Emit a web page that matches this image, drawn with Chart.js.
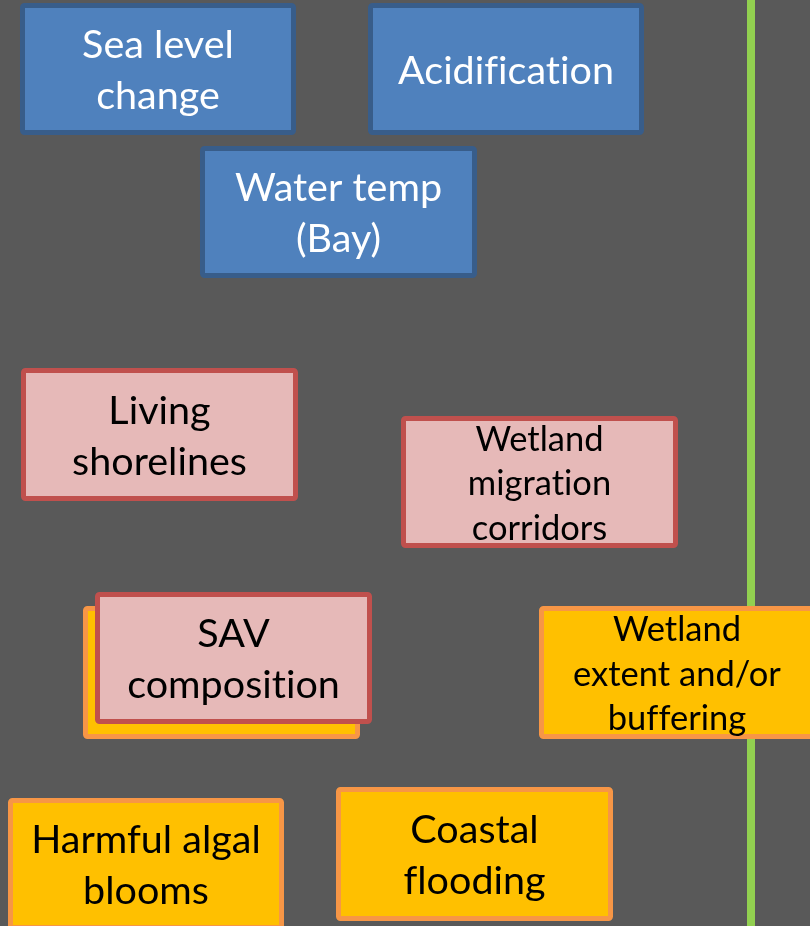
<!DOCTYPE html>
<html>
<head>
<meta charset="utf-8">
<script src="https://cdn.jsdelivr.net/npm/chart.js@4/dist/chart.umd.min.js"></script>
<style>
  html, body { margin: 0; padding: 0; background: #595959; overflow: hidden; }
  canvas { display: block; }
</style>
</head>
<body>
<canvas id="diagram" width="810" height="926"></canvas>
<script>
'use strict';

/* ── data: boxes in diagram units (x: 0–810, y: 0–926 from the top) ── */
const boxLabels = [
    ['Sea level', 'change'],
    ['Acidification'],
    ['Water temp', '(Bay)'],
    ['Living', 'shorelines'],
    ['Wetland', 'migration', 'corridors'],
    [''],
    ['SAV', 'composition'],
    ['Wetland', 'extent and/or', 'buffering'],
    ['Harmful algal', 'blooms'],
    ['Coastal', 'flooding']
];
const boxGroup  = ['driver', 'driver', 'driver', 'action', 'action', 'outcome', 'action', 'outcome', 'outcome', 'outcome'];
const boxLeft   = [20, 368, 200, 21, 401, 83, 95, 539, 8, 336];
const boxRight  = [296, 644, 477, 298, 678, 360, 372, 815, 284, 613];
const boxTop    = [3, 3, 146, 368, 416, 606, 592, 606, 798, 787];
const boxBottom = [135, 135, 278, 501, 548, 739, 724, 739, 930, 921];

// vertical divider
const dividerX = [751, 751];
const dividerY = [0, 926];

const GROUP_STYLE = {
    driver:  { fill: '#4F81BD', stroke: '#385D8A', text: '#FFFFFF' },
    action:  { fill: '#E6B9B8', stroke: '#C0504D', text: '#000000' },
    outcome: { fill: '#FFC000', stroke: '#F79646', text: '#000000' }
};

const boxesPlugin = {
    id: 'boxes',
    afterDatasetsDraw(chart) {
        const { ctx, scales: { x, y } } = chart;
        ctx.save();
        boxLabels.forEach((lines, i) => {
            const st = GROUP_STYLE[boxGroup[i]];
            const l = x.getPixelForValue(boxLeft[i]);
            const r = x.getPixelForValue(boxRight[i]);
            const t = y.getPixelForValue(boxTop[i]);
            const b = y.getPixelForValue(boxBottom[i]);
            const bw = 5;

            ctx.beginPath();
            ctx.roundRect(l + bw / 2, t + bw / 2, r - l - bw, b - t - bw, 2);
            ctx.fillStyle = st.fill;
            ctx.fill();
            ctx.lineWidth = bw;
            ctx.strokeStyle = st.stroke;
            ctx.stroke();

            // three-line labels are set a bit smaller
            const size   = lines.length > 2 ? 34.5 : 39.5;
            const lineH  = lines.length > 2 ? 44.5 : 51;
            const cx = (l + r) / 2;
            const cy = (t + b) / 2 + 2;
            ctx.font = `${size}px Lato, "Open Sans", sans-serif`;
            ctx.letterSpacing = '0.01px';   // keeps "fi" from merging into a ligature
            ctx.fillStyle = st.text;
            ctx.textAlign = 'center';
            ctx.textBaseline = 'middle';
            lines.forEach((txt, k) => {
                ctx.fillText(txt, cx, cy + (k - (lines.length - 1) / 2) * lineH);
            });
        });
        ctx.restore();
    }
};

new Chart(document.getElementById('diagram'), {
    type: 'scatter',
    data: {
        datasets: [{
            data: dividerX.map((v, i) => ({ x: v, y: dividerY[i] })),
            showLine: true,
            borderColor: '#92D050',
            borderWidth: 8,
            pointRadius: 0
        }]
    },
    options: {
        responsive: false,
        devicePixelRatio: 1,
        animation: false,
        layout: { padding: 0 },
        plugins: { legend: { display: false }, tooltip: { enabled: false } },
        scales: {
            x: { type: 'linear', min: 0, max: 810, display: false },
            y: { type: 'linear', min: 0, max: 926, reverse: true, display: false }
        }
    },
    plugins: [boxesPlugin]
});
</script>
</body>
</html>
